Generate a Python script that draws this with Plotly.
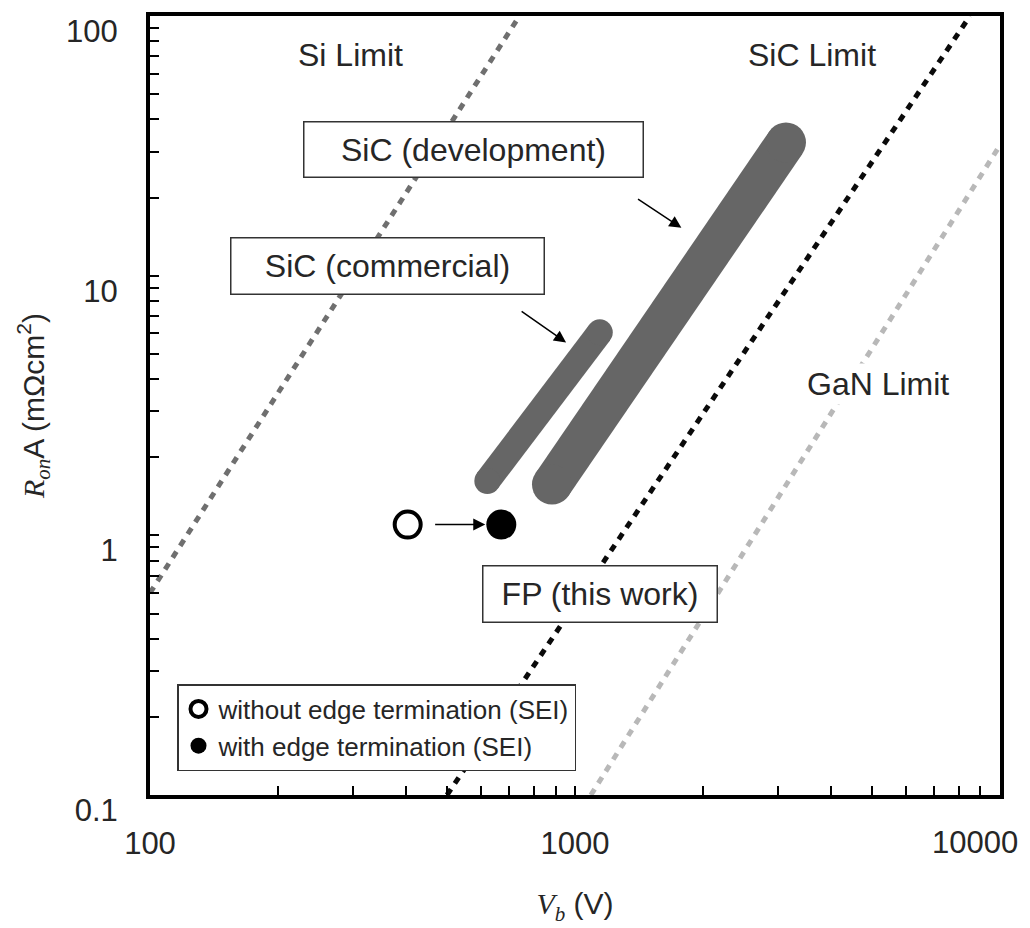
import numpy as np
import plotly.graph_objects as go

# ---------------- data ----------------
si_limit_v = [100, 740]
si_limit_r = [0.60, 100]
sic_limit_v = [500, 8500]
sic_limit_r = [0.10, 100]
gan_limit_v = [1090, 10000]
gan_limit_r = [0.10, 31.8]

sic_commercial_v = [622, 1144]
sic_commercial_r = [1.62, 6.05]
sic_development_v = [883, 3137]
sic_development_r = [1.57, 32.6]

fp_without_v = [404]
fp_without_r = [1.10]
fp_with_v = [671]
fp_with_r = [1.10]

# arrows: (tail V, tail R, head V, head R)
arrow_fp = [465, 1.10, 615, 1.10]
arrow_dev = [1396, 19.9, 1780, 15.3]
arrow_com = [743, 7.35, 953, 5.53]

x_major = [100, 1000, 10000]
x_major_text = ["100", "1000", "10000"]
x_minor = [200, 300, 400, 500, 600, 700, 800, 900,
           2000, 3000, 4000, 5000, 6000, 7000, 8000, 9000]
y_major = [0.1, 1, 10, 100]
y_major_text = ["0.1", "1", "10", "100"]
y_minor = [0.2, 0.3, 0.4, 0.5, 0.6, 0.7, 0.8, 0.9,
           2, 3, 4, 5, 6, 7, 8, 9,
           20, 30, 40, 50, 60, 70, 80, 90]

# ---------------- layout helpers ----------------
W, H = 1030, 928
L, R, T, B = 150, 30, 16, 133
PW, PH = W - L - R, H - T - B


def px(xp):
    return (xp - L) / PW


def py(yp):
    return (H - B - yp) / PH


SANS = "Liberation Sans, Arial, sans-serif"
SERIF = "Liberation Serif, Times New Roman, serif"
TXT = "#262626"

fig = go.Figure()

# limit lines
for v, r, c in [(si_limit_v, si_limit_r, "#6f6f6f"),
                (sic_limit_v, sic_limit_r, "#0a0a0a"),
                (gan_limit_v, gan_limit_r, "#b8b8b8")]:
    fig.add_trace(go.Scatter(x=v, y=r, mode="lines", showlegend=False,
                             hoverinfo="skip",
                             line=dict(color=c, width=5, dash="7px,7px")))

# SiC bands (rounded caps via end markers)
for v, r, w in [(sic_commercial_v, sic_commercial_r, 26),
                (sic_development_v, sic_development_r, 40)]:
    fig.add_trace(go.Scatter(x=v, y=r, mode="lines+markers", showlegend=False,
                             hoverinfo="skip",
                             line=dict(color="#666666", width=w),
                             marker=dict(color="#666666", size=w,
                                         line=dict(width=0))))

# FP points
fig.add_trace(go.Scatter(x=fp_without_v, y=fp_without_r, mode="markers",
                         name="without edge termination (SEI)",
                         marker=dict(symbol="circle", size=26, color="white",
                                     line=dict(color="black", width=4))))
fig.add_trace(go.Scatter(x=fp_with_v, y=fp_with_r, mode="markers",
                         name="with edge termination (SEI)",
                         marker=dict(symbol="circle", size=30, color="black",
                                     line=dict(width=0))))

annotations = []

# arrows
for a in [arrow_fp, arrow_dev, arrow_com]:
    annotations.append(dict(
        x=np.log10(a[2]), y=np.log10(a[3]), ax=np.log10(a[0]), ay=np.log10(a[1]),
        xref="x", yref="y", axref="x", ayref="y", text="", showarrow=True,
        arrowhead=2, arrowsize=1.6, arrowwidth=1.5, arrowcolor="black",
        standoff=0, startstandoff=0))

# plain labels
for text, cx, cy, bg in [("Si Limit", 350, 55, None),
                         ("SiC Limit", 812, 55, None),
                         ("GaN Limit", 878, 384, "white")]:
    annotations.append(dict(
        x=px(cx), y=py(cy), xref="paper", yref="paper", text=text,
        showarrow=False, xanchor="center", yanchor="middle",
        font=dict(family=SANS, size=32, color=TXT),
        bgcolor=bg if bg else "rgba(0,0,0,0)", borderpad=2))

# boxed labels
for text, x0, y0, x1, y1 in [("SiC (development)", 303, 121, 643, 177),
                             ("SiC (commercial)", 230, 237, 544, 294),
                             ("FP (this work)", 482, 565, 717, 622)]:
    annotations.append(dict(
        x=px((x0 + x1) / 2), y=py((y0 + y1) / 2), xref="paper", yref="paper",
        text=text, showarrow=False, xanchor="center", yanchor="middle",
        font=dict(family=SANS, size=32, color=TXT),
        width=(x1 - x0) - 14, height=(y1 - y0) - 14, borderpad=6,
        bgcolor="white", bordercolor="#333333", borderwidth=1.5))

# the last x tick label sits a little left of its tick so it stays on the page
x_tick_text_drawn = list(x_major_text)
x_tick_text_drawn[-1] = ""
annotations.append(dict(
    x=np.log10(x_major[-1]), y=py(843), xref="x", yref="paper",
    text=x_major_text[-1], showarrow=False, xanchor="right", yanchor="middle",
    xshift=20, font=dict(family=SANS, size=31, color=TXT)))

fig.update_layout(
    width=W, height=H,
    margin=dict(l=L, r=R, t=T, b=B),
    plot_bgcolor="white", paper_bgcolor="white",
    annotations=annotations,
    showlegend=True,
    legend=dict(x=px(177), y=py(684), xanchor="left", yanchor="top",
                bgcolor="white", bordercolor="#333333", borderwidth=1.5,
                font=dict(family=SANS, size=26, color=TXT),
                tracegroupgap=0, itemsizing="trace"),
    font=dict(family=SANS, color=TXT),
)

fig.update_xaxes(
    type="log", range=[2, 4.0002], showgrid=False, zeroline=False,
    showline=True, linecolor="black", linewidth=4, mirror=True,
    ticks="inside", ticklen=9, tickwidth=1.5, tickcolor="black",
    tickvals=x_major, ticktext=x_tick_text_drawn,
    minor=dict(ticks="inside", ticklen=9, tickwidth=1.5, tickcolor="black",
               tickvals=x_minor, showgrid=False),
    tickfont=dict(family=SANS, size=31, color=TXT),
    ticklabelstandoff=18, automargin=False,
    title=dict(text=f"<span style='font-family:{SERIF}'><i>V</i><sub><i>b</i></sub></span> (V)",
               font=dict(family=SANS, size=30, color=TXT), standoff=34),
)
fig.update_yaxes(
    type="log", range=[-1, 2.0002], showgrid=False, zeroline=False,
    showline=True, linecolor="black", linewidth=4, mirror=True,
    ticks="inside", ticklen=9, tickwidth=1.5, tickcolor="black",
    tickvals=y_major, ticktext=y_major_text,
    minor=dict(ticks="inside", ticklen=9, tickwidth=1.5, tickcolor="black",
               tickvals=y_minor, showgrid=False),
    tickfont=dict(family=SANS, size=31, color=TXT),
    ticklabelstandoff=22, ticklabelshift=15, ticklabeloverflow="allow",
    automargin=False,
    title=dict(text=f"<span style='font-family:{SERIF}'><i>R</i><sub><i>on</i></sub></span>A (mΩcm<sup>2</sup>)",
               font=dict(family=SANS, size=30, color=TXT), standoff=14),
)

fig.write_html("out.html")
